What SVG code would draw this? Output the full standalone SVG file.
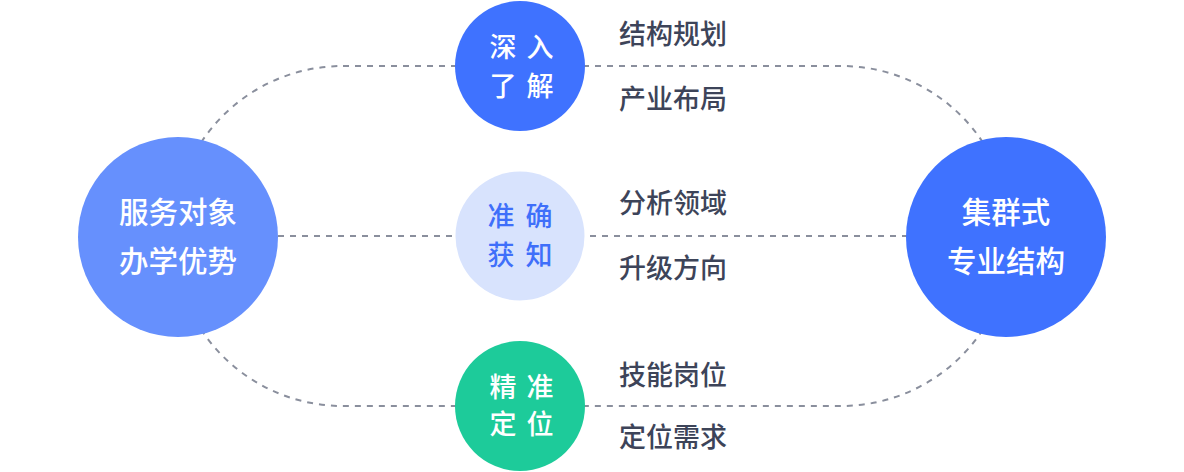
<svg xmlns="http://www.w3.org/2000/svg" width="1184" height="472" viewBox="0 0 1184 472">
<style>
.dash{fill:none;stroke:#8a8f9d;stroke-width:2;stroke-dasharray:6 6}
.ct{font-family:"Noto Sans CJK SC","Noto Sans",sans-serif;font-size:27px;font-weight:500;fill:#fff;text-anchor:middle}
.big{font-family:"Noto Sans CJK SC","Noto Sans",sans-serif;font-size:29.5px;font-weight:500;fill:#fff;text-anchor:middle}
.lb{font-family:"Noto Sans CJK SC","Noto Sans",sans-serif;font-size:27px;font-weight:500;fill:#3d4459}
</style>
<rect width="1184" height="472" fill="#fff"/>
<g id="connectors">
<rect class="dash" x="173" y="66" width="838" height="340" rx="170" ry="170"/>
<line class="dash" x1="278" y1="236" x2="907" y2="236"/>
</g>
<g id="left">
<circle cx="178" cy="237" r="100" fill="#6690fd"/>
<text class="big" x="178" y="223">服务对象</text>
<text class="big" x="178" y="272">办学优势</text>
</g>
<g id="right">
<circle cx="1006" cy="237" r="100" fill="#3f72ff"/>
<text class="big" x="1006" y="223">集群式</text>
<text class="big" x="1006" y="272">专业结构</text>
</g>
<g id="top">
<circle cx="520" cy="66" r="65" fill="#3f72ff"/>
<text class="ct" x="503 540" y="57">深入</text>
<text class="ct" x="503 540" y="96">了解</text>
</g>
<g id="middle">
<circle cx="520" cy="236" r="64.5" fill="#d8e3fd"/>
<text class="ct" x="501 539" y="226" style="fill:#3f6ffa">准确</text>
<text class="ct" x="501 539" y="265" style="fill:#3f6ffa">获知</text>
</g>
<g id="bottom">
<circle cx="520" cy="406" r="65" fill="#1dcb9a"/>
<text class="ct" x="503 540" y="397">精准</text>
<text class="ct" x="503 540" y="434">定位</text>
</g>
<g id="labels">
<text class="lb" x="619" y="44">结构规划</text>
<text class="lb" x="619" y="109">产业布局</text>
<text class="lb" x="619" y="213">分析领域</text>
<text class="lb" x="619" y="278">升级方向</text>
<text class="lb" x="619" y="385">技能岗位</text>
<text class="lb" x="619" y="447">定位需求</text>
</g>
</svg>
